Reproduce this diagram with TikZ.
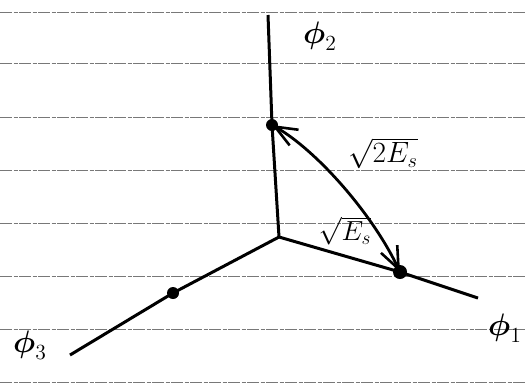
\documentclass[tikz,border=0pt]{standalone}
\usepackage{amsmath,amssymb}
\usepackage{tikz}
\usetikzlibrary{arrows.meta,positioning}
\definecolor{ruling}{RGB}{120,120,120}

\begin{document}
\begin{tikzpicture}[x=1pt,y=-1pt,>={Straight Barb[length=22pt,width=18pt,line width=2.6pt]}]
  \useasboundingbox (0,0) rectangle (526,384);
  % ruled paper
  \foreach \y in {12,63,117,170,223,276,329,382} {\draw[ruling,line width=0.6pt,dash pattern=on 12pt off 1.5pt on 4pt off 1.5pt] (0,\y)--(526,\y);}
  \coordinate (O) at (279,237); \coordinate (e1) at (478,298); \coordinate (e2) at (268,15); \coordinate (e3) at (70,355);
  \coordinate (s1) at (400,272); \coordinate (s2) at (272,125); \coordinate (s3) at (173,293);
  \draw[line width=3pt] (O)--(s2)--(e2); \draw[line width=3pt] (O)--(s1)--(e1); \draw[line width=3pt] (O)--(s3)--(e3);
  \draw[<->,line width=2.8pt] (s2) .. controls (316,150) and (372,213) .. (s1);
  \foreach \p/\r in {s1/7,s2/6,s3/6} {\fill (\p) circle (\r);}
  \node[font=\LARGE] (l2) at (320,36) {\scalebox{1.8}{$\boldsymbol{\phi}_2$}};
  \node[font=\LARGE] (l1) at (505,328) {\scalebox{1.8}{$\boldsymbol{\phi}_1$}};
  \node[font=\LARGE] (l3) at (30,345) {\scalebox{1.8}{$\boldsymbol{\phi}_3$}};
  \node[font=\LARGE] (d12) at (383,153) {\scalebox{1.7}{$\sqrt{2E_s}$}};
  \node[font=\LARGE] (d1) at (345,231) {\scalebox{1.6}{$\sqrt{E_s}$}};
\end{tikzpicture}
\end{document}
